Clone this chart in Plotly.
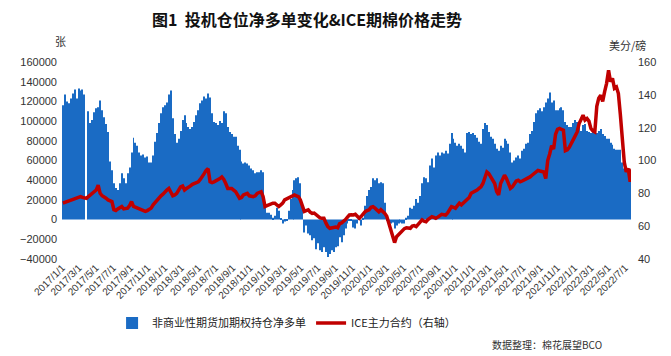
import pandas as pd
import plotly.graph_objects as go

# weekly report dates (first report 2017-01-03)
start_date = "2017-01-03"
n_weeks = 291

# net long positions (contracts), noncommercial futures+options, in thousands
net_long_k = [
    116, 127, 120, 118, 123, 128, 132, 123, 133, 131, 132, 127, None,
    110, 98, 101, 109, 113, 114, 121, 111, 104, 97, 89, 59, 50, 37, 32, 30, 37,
    47, 42, 37, 47, 53, 68, 83, 78, 75, 68, 65, 66, 63, 64, 58, 58, 65, 79, 88,
    98, 108, 114, 116, 119, 127, 131, 103, 87, 78, 82, 90, 101, 106, 98, 94, 92,
    94, 99, 106, 111, 118, 121,
    125, 123, 128, 124, 108, 99, 98, 96, 100, 98, 110, 108, 94, 89, 87, 84, 84,
    75, 71, 59, 57, 58, 57, 55, 52, 50, 47, 48, 48, 50, 48, 12, 7, 7, 5, 2, 4,
    12, 9, 1, -4, -2, -1, 9, 21, 30, 40, 42, 43, 37, 17, -13, -6, -14, -16, -21,
    -19, -30, -24, -31, -33, -28, -33, -38, -35, -31, -33, -28, -27, -18, -23,
    -16, -9,
    -4, -1, -1, -8, -9, -4, 1, -6, 2, 14, 24, 30, 33, 42, 40, 42, 37, 38, 37, 17,
    -1, -3, -4, -3, -9, -6, -4, -3, -4, -4, 2, 4, 12, 11, 14, 21, 17, 24, 37, 43,
    42, 38, 55, 62, 53, 65, 68, 65, 68, 67, 70, 67, 77, 88, 82, 78, 75, 77, 75,
    72, 68, 88, 89, 87, 88, 86, 83, 79, 77, 92, 98, 96,
    89, 84, 82, 77, 72, 70, 75, 73, 82, 80, 77, 68, 58, 60, 63, 65, 62, 70, 72,
    77, 78, 87, 90, 99, 108, 111, 113, 110, 114, 119, 123, 129, 119, 121, 111,
    111, 113, 114, 111, 99, 96, 94, 94, 98, 101, 99, 94, 90, 96, 97, 90, 89, 88,
    92, 94, 88, 90, 92, 87, 85, 82, 82, 78, 76, 72, 71, 71, 71, 58, 52, 50, 48,
    45, 38,
]

# ICE front contract (cents/lb), weekly
ice_price = [
    74, 74.5, 75, 75.5, 76, 76.5, 77, 77.3, 77.5, 78, 77.5, 77, 77, 78, 79, 80,
    81, 82, 85, 80, 78.5, 78, 77, 76, 75.3, 75, 70, 69.5, 70.5, 71, 72, 70.5,
    70.5, 71, 72.5, 75, 72, 71.5, 71, 70.5, 69.5, 69.2, 69, 69.5, 70, 71, 73,
    74.5, 76, 77, 78.5, 79.5, 81, 82, 83, 81, 78.5, 79, 80, 82, 84, 84.5, 82,
    83, 83.5, 84.5, 85.5, 86, 86.5, 87, 88.5, 90,
    92, 94, 95, 87, 86.5, 87, 87.5, 88, 89, 90, 88.5, 86, 83, 83, 83, 82, 81,
    79, 77, 77.5, 79, 79.5, 80, 78.5, 78, 78, 78.5, 80, 80.5, 81, 78, 72, 72.5,
    73, 74, 74, 74, 73, 72, 73, 74, 76, 76.5, 77, 77.5, 78, 79, 78.5, 78, 76,
    72, 69, 69.5, 70, 68.5, 67.8, 68, 67, 66, 65, 64.8, 64.8, 62, 59.7, 58.7,
    59, 59.7, 59.5, 59, 61.5, 62, 62.7, 64,
    65.5, 66.8, 67, 66.8, 67.2, 66, 64.8, 66, 67.5, 68.8, 69.5, 70, 71.5, 71.9,
    71, 69.5, 68.8, 70, 69, 67.8, 66, 62, 58.7, 54, 50, 53.6, 55, 56.5, 57.7,
    58.5, 59, 59, 58.7, 60, 60.3, 59.7, 61, 62.5, 63.8, 63, 62.7, 64, 65, 65.8,
    65.3, 64.8, 65.5, 66.5, 67.2, 67, 66.8, 68, 70, 71.9, 71.5, 70.9, 72.5, 74,
    73, 74, 74.9, 76, 77.5, 80, 80.5, 81, 82, 83, 84, 86, 89, 93,
    92, 90, 89, 86, 81, 79, 86, 89, 91, 89, 86, 83, 84, 86, 87.5, 88, 87, 87.5,
    88, 88.5, 89, 90, 91, 92, 93.5, 94, 93.6, 93.5, 93, 89, 100, 104, 109, 107,
    116, 119, 119.5, 119, 118.5, 106, 106.5, 108, 110, 112, 115, 117.4, 122.5,
    125, 127.6, 124.6, 125.6, 124, 119.5, 118, 117.4, 133, 138, 139.8, 136, 142,
    147, 155, 148, 150, 144, 144.8, 140.8, 128, 111.4, 99, 93, 95.2, 87, 95,
]

title_text = "图1  投机仓位净多单变化&ICE期棉价格走势"
bar_name = "非商业性期货加期权持仓净多单"
line_name = "ICE主力合约（右轴）"
left_unit = "张"
right_unit = "美分/磅"
source_text = "数据整理：棉花展望BCO"

dates = pd.date_range(start_date, periods=n_weeks, freq="7D")
net_long = [None if v is None else v * 1000 for v in net_long_k]

fig = go.Figure()
fig.add_trace(go.Bar(
    x=dates, y=net_long, name=bar_name,
    marker=dict(color="#1a6bc4", line=dict(width=0)),
))
fig.add_trace(go.Scatter(
    x=dates, y=ice_price, name=line_name, yaxis="y2", mode="lines",
    line=dict(color="#c00000", width=3.5),
))

tick_font = dict(family="Liberation Sans, Noto Sans CJK SC", size=11, color="#333333")

# the page body adds an 8px margin, so the figure is 8px smaller than the window
fig.update_layout(
    width=663, height=348,
    margin=dict(l=41, r=40, t=54, b=97),
    paper_bgcolor="white", plot_bgcolor="white",
    bargap=0.5,
    showlegend=True,
    font=dict(family="Noto Sans CJK SC, Liberation Sans", size=11, color="#333333"),
    title=dict(text="<b>" + title_text + "</b>", x=0.451, xanchor="center",
               y=0.965, yanchor="middle",
               font=dict(family="Noto Sans CJK SC", size=16, color="#111111")),
    xaxis=dict(
        type="date",
        range=["2016-12-31", "2022-07-22"],
        tick0="2017-01-01", dtick="M2", tickformat="%Y/%-m/%-d",
        tickangle=-45, tickfont=dict(family="Liberation Sans", size=10, color="#333333"),
        showgrid=False, zeroline=False, showline=False, ticks="",
    ),
    yaxis=dict(
        range=[-40000, 160000], dtick=20000, tickformat="d",
        showgrid=False, zeroline=False, showline=False, ticks="",
        tickfont=tick_font, ticklabelstandoff=4,
    ),
    yaxis2=dict(
        range=[40, 160], dtick=20, overlaying="y", side="right",
        showgrid=False, zeroline=False, showline=False, ticks="",
        tickfont=tick_font, ticklabelstandoff=6,
    ),
    legend=dict(orientation="h", x=0.088, xanchor="left", y=-0.325, yanchor="middle",
                font=dict(family="Noto Sans CJK SC", size=11, color="#222222"),
                itemwidth=30, traceorder="normal", bgcolor="rgba(0,0,0,0)"),
    annotations=[
        dict(text=left_unit, xref="paper", yref="paper", x=-0.015, y=1.105,
             yanchor="middle", showarrow=False, font=dict(size=11, color="#333333")),
        dict(text=right_unit, xref="paper", yref="paper", x=1.03, y=1.085,
             yanchor="middle", showarrow=False, font=dict(size=11, color="#333333")),
        dict(text=source_text, xref="paper", yref="paper", x=0.952, y=-0.436,
             xanchor="right", yanchor="middle", showarrow=False,
             font=dict(size=10, color="#333333")),
    ],
)

fig.write_html("out.html")
